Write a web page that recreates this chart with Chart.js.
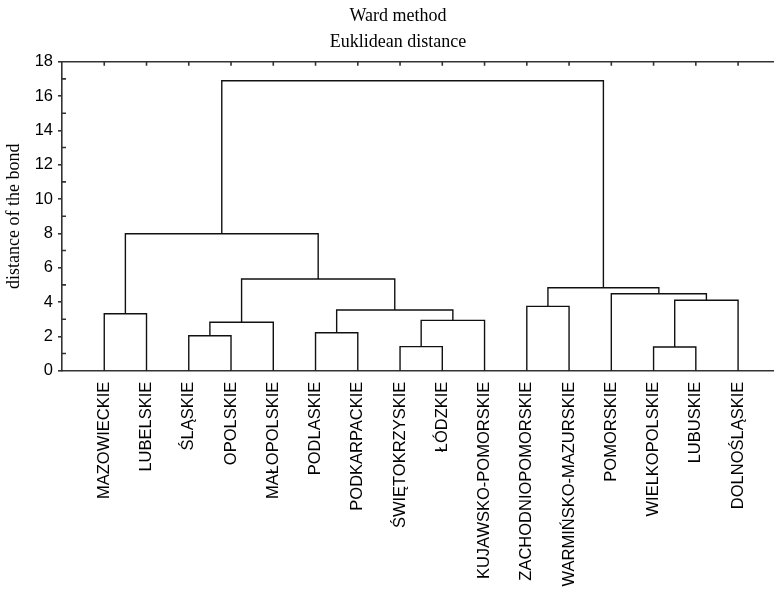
<!DOCTYPE html>
<html>
<head>
<meta charset="utf-8">
<script src="https://cdn.jsdelivr.net/npm/chart.js@4/dist/chart.umd.min.js"></script>
<style>
  html, body { margin: 0; padding: 0; background: #fff; }
  #wrap { width: 774px; height: 590px; position: relative; }
</style>
</head>
<body>
<div id="wrap"><canvas id="chart"></canvas></div>
<script>
// leaves in dendrogram order
const leafNames = ['MAZOWIECKIE', 'LUBELSKIE', 'ŚLĄSKIE', 'OPOLSKIE', 'MAŁOPOLSKIE', 'PODLASKIE',
  'PODKARPACKIE', 'ŚWIĘTOKRZYSKIE', 'ŁÓDZKIE', 'KUJAWSKO-POMORSKIE', 'ZACHODNIOPOMORSKIE',
  'WARMIŃSKO-MAZURSKIE', 'POMORSKIE', 'WIELKOPOLSKIE', 'LUBUSKIE', 'DOLNOŚLĄSKIE'];

// linkage: node ids 0..15 are leaves, merge i creates node 16 + i
const linkLeft = [0, 2, 17, 5, 7, 20, 19, 18, 16, 10, 13, 26, 12, 25, 24];
const linkRight = [1, 3, 4, 6, 8, 9, 21, 22, 23, 11, 14, 15, 27, 28, 29];
const linkHeight = [3.32, 2.04, 2.82, 2.21, 1.40, 2.93, 3.54, 5.34, 7.98, 3.75, 1.38, 4.10, 4.48, 4.83, 16.89];

const yTicks = [0, 2, 4, 6, 8, 10, 12, 14, 16, 18];

// node positions (x = leaf slot, y = bond distance)
const nodeX = leafNames.map((n, i) => i + 1);
const nodeY = leafNames.map(() => 0);
const datasets = [];
linkLeft.forEach((l, i) => {
  const r = linkRight[i];
  const h = linkHeight[i];
  datasets.push({
    data: [
      { x: nodeX[l], y: nodeY[l] },
      { x: nodeX[l], y: h },
      { x: nodeX[r], y: h },
      { x: nodeX[r], y: nodeY[r] }
    ],
    showLine: true,
    borderColor: '#111',
    borderWidth: 1.4,
    pointRadius: 0,
    fill: false
  });
  nodeX.push((nodeX[l] + nodeX[r]) / 2);
  nodeY.push(h);
});

const axisDecor = {
  id: 'axisDecor',
  afterDraw(chart) {
    const { ctx, chartArea } = chart;
    const xs = chart.scales.x, ys = chart.scales.y;
    ctx.save();
    ctx.strokeStyle = '#333';
    ctx.lineWidth = 1.6;
    // top frame line with inward ticks
    ctx.beginPath();
    ctx.moveTo(chartArea.left, chartArea.top);
    ctx.lineTo(chartArea.right, chartArea.top);
    leafNames.forEach((n, i) => {
      const px = xs.getPixelForValue(i + 1);
      ctx.moveTo(px, chartArea.top);
      ctx.lineTo(px, chartArea.top + 4);
    });
    // minor inward ticks on the left axis
    for (let v = 1; v < 18; v += 2) {
      const py = ys.getPixelForValue(v);
      ctx.moveTo(chartArea.left, py);
      ctx.lineTo(chartArea.left + 4, py);
    }
    ctx.stroke();

    // titles
    ctx.fillStyle = '#000';
    ctx.font = '18px "Liberation Serif", "Times New Roman", serif';
    ctx.textAlign = 'center';
    ctx.textBaseline = 'alphabetic';
    ctx.fillText('Ward method', 398, 20.7);
    ctx.fillText('Euklidean distance', 398, 46.7);
    ctx.restore();
  }
};

new Chart(document.getElementById('chart'), {
  type: 'scatter',
  data: { datasets },
  options: {
    responsive: true,
    maintainAspectRatio: false,
    animation: false,
    layout: { padding: { top: 61.7, right: 0, left: 0, bottom: 0 } },
    plugins: { legend: { display: false }, tooltip: { enabled: false } },
    scales: {
      x: {
        type: 'linear',
        min: 0,
        max: 16.85,
        afterBuildTicks: (scale) => { scale.ticks = leafNames.map((n, i) => ({ value: i + 1 })); },
        afterFit: (scale) => { scale.height = 590 - 370.7; },
        grid: { display: false },
        border: { display: true, color: '#333', width: 1.6 },
        ticks: {
          autoSkip: false,
          minRotation: 90,
          maxRotation: 90,
          padding: 3,
          color: '#000',
          font: { family: '"Liberation Sans", Arial, sans-serif', size: 16.5 },
          callback: (v) => leafNames[v - 1]
        }
      },
      y: {
        min: 0,
        max: 18,
        afterBuildTicks: (scale) => { scale.ticks = yTicks.map(v => ({ value: v })); },
        afterFit: (scale) => { scale.width = 62; },
        grid: { drawOnChartArea: false, tickLength: 4, color: '#333', lineWidth: 1.6 },
        border: { display: true, color: '#333', width: 1.6 },
        ticks: {
          padding: 5,
          color: '#000',
          font: { family: '"Liberation Sans", Arial, sans-serif', size: 16.5 }
        },
        title: {
          display: true,
          text: 'distance of the bond',
          color: '#000',
          padding: { top: 3, bottom: 0 },
          font: { family: '"Liberation Serif", "Times New Roman", serif', size: 18 }
        }
      }
    }
  },
  plugins: [axisDecor]
});
</script>
</body>
</html>
